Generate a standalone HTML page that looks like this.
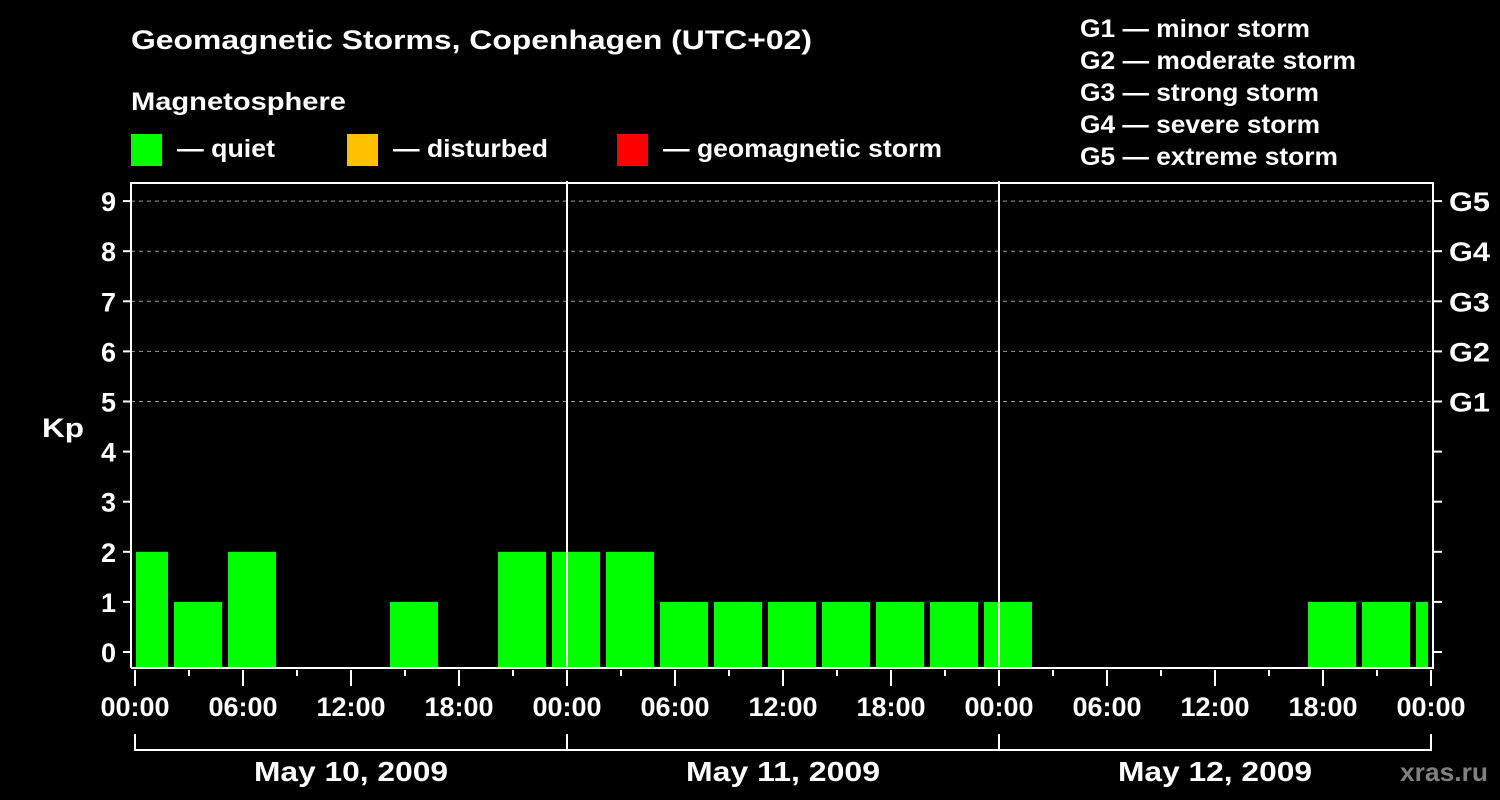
<!DOCTYPE html>
<html><head><meta charset="utf-8"><style>
html,body{margin:0;padding:0;background:#000;width:1500px;height:800px;overflow:hidden}
svg text{font-family:"Liberation Sans",sans-serif;font-weight:bold;fill:#fff}
</style></head><body>
<svg id="chart" width="1500" height="800" xmlns="http://www.w3.org/2000/svg">
<text x="131" y="49" font-size="27" textLength="681" lengthAdjust="spacingAndGlyphs">Geomagnetic Storms, Copenhagen (UTC+02)</text>
<text x="131" y="110" font-size="25" textLength="215" lengthAdjust="spacingAndGlyphs">Magnetosphere</text>
<g><rect x="131" y="134" width="31" height="32" fill="#00ff00"/><text x="177" y="157" font-size="25" textLength="98" lengthAdjust="spacingAndGlyphs">— quiet</text></g>
<g><rect x="347" y="134" width="31" height="32" fill="#ffc000"/><text x="393" y="157" font-size="25" textLength="155" lengthAdjust="spacingAndGlyphs">— disturbed</text></g>
<g><rect x="617" y="134" width="31" height="32" fill="#ff0000"/><text x="663" y="157" font-size="25" textLength="279" lengthAdjust="spacingAndGlyphs">— geomagnetic storm</text></g>
<g font-size="25">
<text x="1080" y="37" textLength="230" lengthAdjust="spacingAndGlyphs">G1 — minor storm</text>
<text x="1080" y="69" textLength="276" lengthAdjust="spacingAndGlyphs">G2 — moderate storm</text>
<text x="1080" y="101" textLength="239" lengthAdjust="spacingAndGlyphs">G3 — strong storm</text>
<text x="1080" y="133" textLength="240" lengthAdjust="spacingAndGlyphs">G4 — severe storm</text>
<text x="1080" y="165" textLength="258" lengthAdjust="spacingAndGlyphs">G5 — extreme storm</text>
</g>
<text x="42" y="437" font-size="27" textLength="42" lengthAdjust="spacingAndGlyphs">Kp</text>
<text x="1400" y="781" font-size="26" style="fill:#808080" textLength="88" lengthAdjust="spacingAndGlyphs">xras.ru</text>
<g id="grid"></g><g id="bars"></g><g id="axes"></g>
</svg>
<script>
const kpValues=[2,1,2,0,0,1,0,2,2,2,1,1,1,1,1,1,1,0,0,0,0,0,1,1,1];
const intervalStartHours=[-1,2,5,8,11,14,17,20,23,26,29,32,35,38,41,44,47,50,53,56,59,62,65,68,71];
const dayLabels=["May 10, 2009","May 11, 2009","May 12, 2009"];
const hourLabels=["00:00","06:00","12:00","18:00"];
const gLabels=["G1","G2","G3","G4","G5"];
const NS="http://www.w3.org/2000/svg";
const X0=135,PXH=18,PL=131,PR=1433,PT=183,PB=668;
const xs=h=>X0+h*PXH;
const ys=k=>652-k*50.1;
function mk(tag,attrs,parent){const e=document.createElementNS(NS,tag);for(const k in attrs)e.setAttribute(k,attrs[k]);parent.appendChild(e);return e;}
const grid=document.getElementById('grid'),bars=document.getElementById('bars'),axes=document.getElementById('axes');
for(let k=5;k<=9;k++){
 const l=mk('line',{x1:PL,x2:PR,y1:ys(k),y2:ys(k),stroke:'#999','stroke-width':1,'stroke-dasharray':'4,4'},grid);
 
 
}
intervalStartHours.forEach((h,i)=>{
 const v=kpValues[i]; if(!v) return;
 const l=Math.max(xs(h)+3,136), r=Math.min(xs(h+3)-3,1428);
 const c=v>=5?'#ff0000':(v>=4?'#ffc000':'#00ff00');
 const b=mk('rect',{x:l,y:ys(v),width:r-l,height:PB-ys(v),fill:c},bars);
 
 
});
for(let d=1;d<3;d++){
 const l=mk('line',{x1:xs(24*d),x2:xs(24*d),y1:181,y2:PB,stroke:'#fff','stroke-width':2},axes);
 
 
}
const frame=mk('path',{d:`M${PL},${PB} V${PT} H${PR} V${PB} H${PL}`,fill:'none',stroke:'#fff','stroke-width':2},axes);


for(let k=0;k<=9;k++){
 mk('line',{x1:123,x2:PL,y1:ys(k),y2:ys(k),stroke:'#fff','stroke-width':2},axes);
 mk('line',{x1:PR,x2:1442,y1:ys(k),y2:ys(k),stroke:'#fff','stroke-width':2},axes);
 const t=mk('text',{x:116,y:ys(k)+10,'font-size':27,'text-anchor':'end'},axes);
 t.textContent=k;
 
 
}
gLabels.forEach((g,i)=>{
 const t=mk('text',{x:1449,y:ys(5+i)+10,'font-size':27,textLength:41,lengthAdjust:'spacingAndGlyphs'},axes);
 t.textContent=g;
 
 
});
for(let h=0;h<=72;h+=3){
 const major=h%6===0;
 mk('line',{x1:xs(h),x2:xs(h),y1:670,y2:major?686:676,stroke:'#fff','stroke-width':2},axes);
 if(major){
  const t=mk('text',{x:xs(h),y:716,'font-size':27,'text-anchor':'middle'},axes);
  t.textContent=hourLabels[(h%24)/6];
  
  
 }
}
mk('path',{d:`M${xs(0)},734 V750 H${xs(72)} V734`,fill:'none',stroke:'#fff','stroke-width':2},axes);
for(let d=1;d<3;d++) mk('line',{x1:xs(24*d),x2:xs(24*d),y1:734,y2:750,stroke:'#fff','stroke-width':2},axes);
dayLabels.forEach((s,d)=>{
 const t=mk('text',{x:xs(24*d+12)-97,y:781,'font-size':28,textLength:194,lengthAdjust:'spacingAndGlyphs'},axes);
 t.textContent=s;
 
 
});
</script>
</body></html>
